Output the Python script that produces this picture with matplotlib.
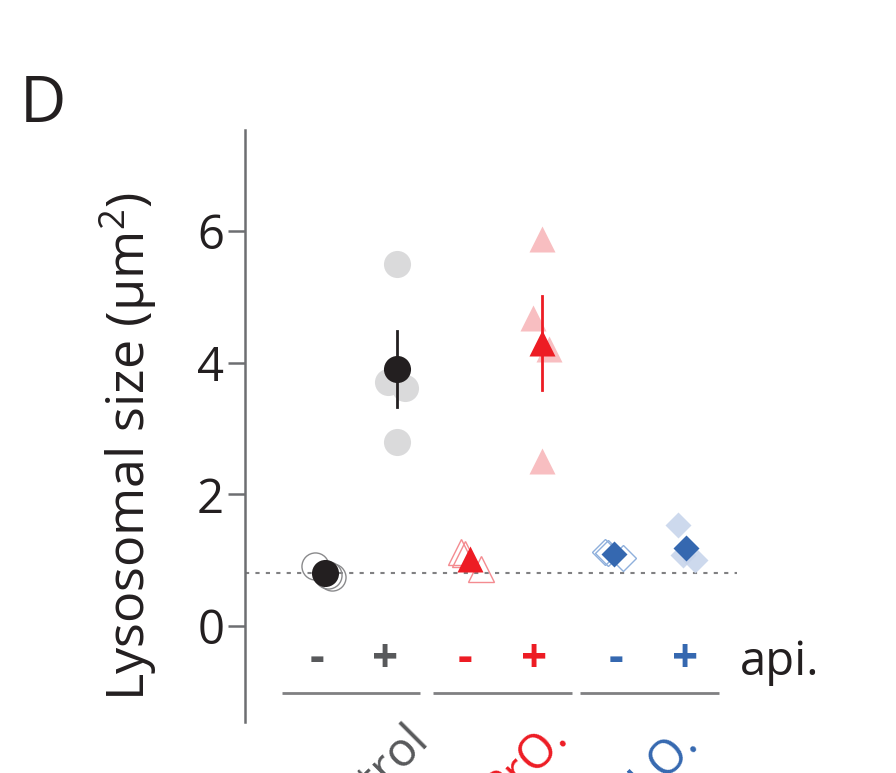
import matplotlib
matplotlib.use("Agg")
from matplotlib import pyplot as plt

plt.rcParams["font.family"] = ["Open Sans", "DejaVu Sans"]
plt.rcParams["mathtext.fontset"] = "custom"
plt.rcParams["mathtext.rm"] = "Open Sans"
plt.rcParams["mathtext.it"] = "Open Sans:italic"

# groups and treatment
groups = ["Control", "PrO.", "GLO."]
api_signs = ["-", "+"]
y_ticks = [0, 2, 4, 6]

# individual measurements per condition (order: ctrl-, ctrl+, pro-, pro+, glo-, glo+)
ctrl_minus = [0.91, 0.78, 0.74]
ctrl_plus = [5.50, 3.70, 3.61, 2.80]
pro_minus = [1.12, 1.09, 0.86]
pro_plus = [5.88, 4.68, 4.20, 2.50]
glo_minus = [1.12, 1.11, 1.03]
glo_plus = [1.53, 1.08, 1.00]

# mean and error per condition
means = [0.81, 3.90, 1.02, 4.30, 1.09, 1.18]
errors = [0.03, 0.58, 0.04, 0.72, 0.02, 0.15]

# layout: horizontal jitter of the single points
jitter = [
    [-0.14, 0.04, 0.10],
    [0.0, -0.13, 0.11, 0.0],
    [-0.12, -0.06, 0.16],
    [0.0, -0.12, 0.10, 0.0],
    [-0.13, -0.09, 0.12],
    [-0.12, -0.05, 0.12],
]

colors = ["#231f20", "#ed1c24", "#3568b0"]
light = ["#dadadb", "#f7b3b6", "#c5d3ea"]
open_edge = ["#8a8a8c", "#f48b90", "#8fb0dc"]
sign_colors = ["#58595b", "#ed1c24", "#3568b0"]
markers = ["o", "^", "D"]
msizes = [19.5, 18.5, 13.3]

fig = plt.figure(figsize=(8.96, 7.73), dpi=100)
ax = fig.add_axes([245 / 896, 1 - 722 / 773, 492 / 896, 592 / 773])

values = [ctrl_minus, ctrl_plus, pro_minus, pro_plus, glo_minus, glo_plus]

# reference line at control mean
ax.axhline(means[0], color="#808082", lw=1.5, ls=(0, (2, 3)), zorder=1)

for i, vals in enumerate(values):
    g = i // 2
    treated = i % 2 == 1
    xs = [i + j for j in jitter[i]]
    if treated:
        ax.plot(xs, vals, ls="none", marker=markers[g], ms=msizes[g],
                mfc=light[g], mec="none", alpha=1.0 if g == 0 else 0.85, zorder=2)
    else:
        ax.plot(xs, vals, ls="none", marker=markers[g], ms=msizes[g],
                mfc="none", mec=open_edge[g], mew=1.0, zorder=2)
    ax.plot([i, i], [means[i] - errors[i], means[i] + errors[i]],
            color=colors[g], lw=2, zorder=4)
    ax.plot([i], [means[i]], ls="none", marker=markers[g], ms=msizes[g],
            mfc=colors[g], mec="none", zorder=3)

ax.set_xlim(-1.107, 5.70)
ax.set_ylim(-1.458, 7.534)
ax.set_yticks(y_ticks)
ax.set_xticks([])
for s in ["top", "right", "bottom"]:
    ax.spines[s].set_visible(False)
ax.spines["left"].set_color("#6d6e71")
ax.spines["left"].set_linewidth(1.8)
ax.tick_params(axis="y", length=12, width=1.8, color="#6d6e71",
               labelsize=34, pad=3, labelcolor="#231f20")

# api. signs under each condition
sign_x = [-0.11, 0.83, 1.94, 2.90, 4.02, 4.98]
for i, xs in enumerate(sign_x):
    ax.text(xs, -0.70, api_signs[i % 2], color=sign_colors[i // 2], fontsize=33,
            fontweight="bold", ha="center", va="baseline", clip_on=False)
ax.text(5.74, -0.74, "api.", fontsize=34, color="#231f20", ha="left",
        va="baseline", clip_on=False)

# group underlines and rotated group names
line_spans = [(-0.595, 1.314), (1.494, 3.416), (3.527, 5.45)]
label_pos = [(1.45, -1.75), (3.37, -1.69), (5.19, -1.80)]
for g, name in enumerate(groups):
    ax.plot(line_spans[g], [-1.018, -1.018], color="#808082", lw=2,
            clip_on=False, solid_capstyle="butt")
    ax.text(label_pos[g][0], label_pos[g][1], name, color=sign_colors[g],
            fontsize=34, rotation=45, rotation_mode="anchor", ha="right",
            va="baseline", clip_on=False)

fig.text(128 / 896, 1 - 447 / 773, "Lysosomal size (\u00b5m$^2$)", rotation=90,
         ha="center", va="center", fontsize=37.5, color="#231f20")
fig.text(20 / 896, 1 - 122 / 773, "D", fontsize=46, color="#231f20",
         ha="left", va="baseline")

fig.savefig("out.png", dpi=100)
